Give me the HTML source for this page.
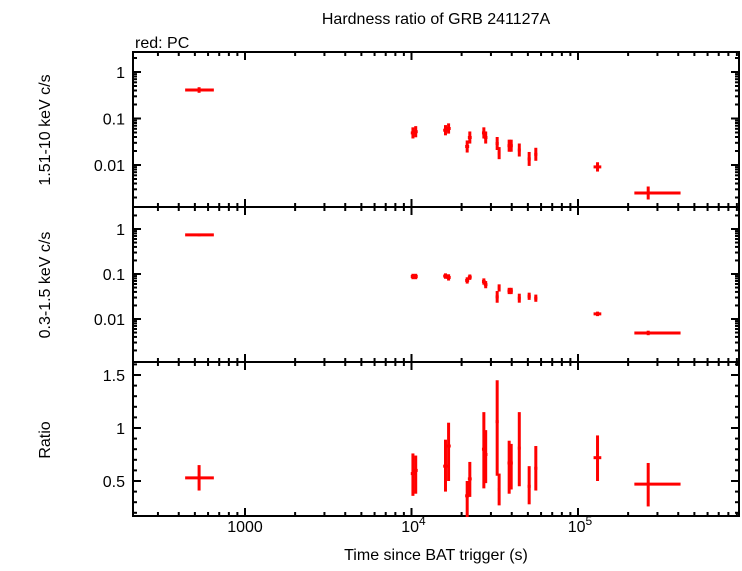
<!DOCTYPE html>
<html><head><meta charset="utf-8"><style>
body{margin:0;background:#fff}
svg text{font-family:"Liberation Sans",sans-serif;font-size:16px;fill:#000}
</style></head><body>
<svg id="c" width="742" height="566" xmlns="http://www.w3.org/2000/svg">
<text x="436" y="24" text-anchor="middle">Hardness ratio of GRB 241127A</text>
<text x="135" y="48">red: PC</text>
<text transform="translate(50,130) rotate(-90)" text-anchor="middle">1.51-10 keV c/s</text>
<text transform="translate(50,285) rotate(-90)" text-anchor="middle">0.3-1.5 keV c/s</text>
<text transform="translate(50,440) rotate(-90)" text-anchor="middle">Ratio</text>
<text x="436" y="560" text-anchor="middle">Time since BAT trigger (s)</text>
<g id="g"></g>
</svg>
<script>
const times=[530,10200,10600,16000,16700,21600,22400,27200,27900,32700,33600,38600,39700,44400,50900,55800,131000,264000];
const xLo=[437,9900,10300,15500,16200,21000,21800,26500,27200,32000,33000,37700,39000,43500,49800,54600,124000,218000];
const xHi=[650,10500,10900,16500,17200,22200,23000,27900,28600,33400,34200,39400,40600,45300,52000,57000,138000,413000];
const hard=[0.41,0.049,0.052,0.056,0.061,0.025,0.039,0.049,0.039,0.029,0.018,0.026,0.026,0.021,0.0135,0.017,0.0091,0.0025];
const hardErr=[0.06,0.12,0.12,0.11,0.11,0.13,0.13,0.12,0.13,0.14,0.13,0.13,0.13,0.14,0.15,0.14,0.1,0.14];
const soft=[0.74,0.088,0.088,0.09,0.084,0.072,0.085,0.068,0.058,0.031,0.049,0.042,0.042,0.029,0.032,0.029,0.013,0.0049];
const softErr=[0.03,0.06,0.06,0.06,0.07,0.07,0.06,0.07,0.08,0.13,0.08,0.07,0.07,0.1,0.08,0.08,0.05,0.05];
const ratio=[0.53,0.57,0.6,0.64,0.83,0.36,0.52,0.8,0.75,1.06,0.42,0.67,0.67,0.81,0.45,0.62,0.72,0.47];
const ratioLo=[0.41,0.36,0.38,0.4,0.5,0.16,0.35,0.43,0.48,0.55,0.27,0.38,0.42,0.45,0.28,0.41,0.5,0.26];
const ratioHi=[0.65,0.76,0.74,0.89,1.05,0.5,0.68,1.15,0.98,1.45,0.57,0.88,0.85,1.15,0.64,0.83,0.93,0.67];
const xTicks=[["1000",3],["10",4],["10",5]];
const L=133,R=739;
const X=t=>245+(Math.log10(t)-3)*166.5;
const panels=[{t:52,b:207},{t:207,b:362},{t:362,b:516}];
const Yh=v=>72-Math.log10(v)*46.5;
const Ys=v=>229-Math.log10(v)*45;
const Yr=v=>428-(v-1)*106;
const g=document.getElementById('g');
const NS='http://www.w3.org/2000/svg';
function mk(tag,a,name){const e=document.createElementNS(NS,tag);for(const k in a)e.setAttribute(k,a[k]);


g.appendChild(e);return e;}
function line(x1,y1,x2,y2,c,w,name){return mk('line',{x1,y1,x2,y2,stroke:c,'stroke-width':w},name);}
panels.forEach((p,i)=>{mk('rect',{x:L,y:p.t,width:R-L,height:p.b-p.t,fill:'none',stroke:'#000','stroke-width':2},'panel-frame-'+i);
 for(let d=2;d<=5;d++)for(let m=1;m<=9;m++){const x=X(m*Math.pow(10,d));if(x<=L||x>=R)continue;const len=m==1?8:4;
  line(x,p.b,x,p.b-len,'#000',2,'x-tick');line(x,p.t,x,p.t+len,'#000',2,'x-tick');}
});
function logTicks(p,Y,labels){for(let d=-3;d<=1;d++)for(let m=1;m<=9;m++){const v=m*Math.pow(10,d);const y=Y(v);if(y<=p.t+1||y>=p.b-1)continue;const len=m==1?8:4;
 line(L,y,L+len,y,'#000',2,'y-tick');line(R,y,R-len,y,'#000',2,'y-tick');}
 labels.forEach(v=>{const t=mk('text',{x:L-8,y:Y(v)+6,'text-anchor':'end'},'y-tick-label');t.textContent=String(v);});}
logTicks(panels[0],Yh,[1,0.1,0.01]);
logTicks(panels[1],Ys,[1,0.1,0.01]);
[0.5,1,1.5].forEach(v=>{const y=Yr(v);line(L,y,L+8,y,'#000',2,'y-tick');line(R,y,R-8,y,'#000',2,'y-tick');
 const t=mk('text',{x:L-8,y:y+6,'text-anchor':'end'},'y-tick-label');t.textContent=String(v);});
for(let v=0.2;v<1.65;v+=0.1){const y=Yr(v);if(y<=363||y>=515)continue;line(L,y,L+4,y,'#000',2,'y-minor-tick');line(R,y,R-4,y,'#000',2,'y-minor-tick');}
xTicks.forEach(([s,e])=>{const x=X(Math.pow(10,e));const t=mk('text',{x:x,y:532,'text-anchor':'middle'},'x-tick-label');
 t.textContent=s;if(e!=3){const ts=document.createElementNS(NS,'tspan');ts.setAttribute('dy','-7');ts.setAttribute('font-size','12');ts.textContent=String(e);t.appendChild(ts);t.setAttribute('x',x+2);}});
const red='#f00';
times.forEach((t,i)=>{const x=X(t),x1=X(xLo[i]),x2=X(xHi[i]);
 let y=Yh(hard[i]);line(x1,y,x2,y,red,3,'hard-point-xerr');line(x,y-hardErr[i]*46.5,x,y+hardErr[i]*46.5,red,3,'hard-point-yerr');
 y=Ys(soft[i]);line(x1,y,x2,y,red,3,'soft-point-xerr');line(x,y-softErr[i]*45,x,y+softErr[i]*45,red,3,'soft-point-yerr');
 y=Yr(ratio[i]);line(x1,y,x2,y,red,3,'ratio-point-xerr');line(x,Yr(ratioHi[i]),x,Yr(ratioLo[i]),red,3,'ratio-point-yerr');
});
</script>
</body></html>
